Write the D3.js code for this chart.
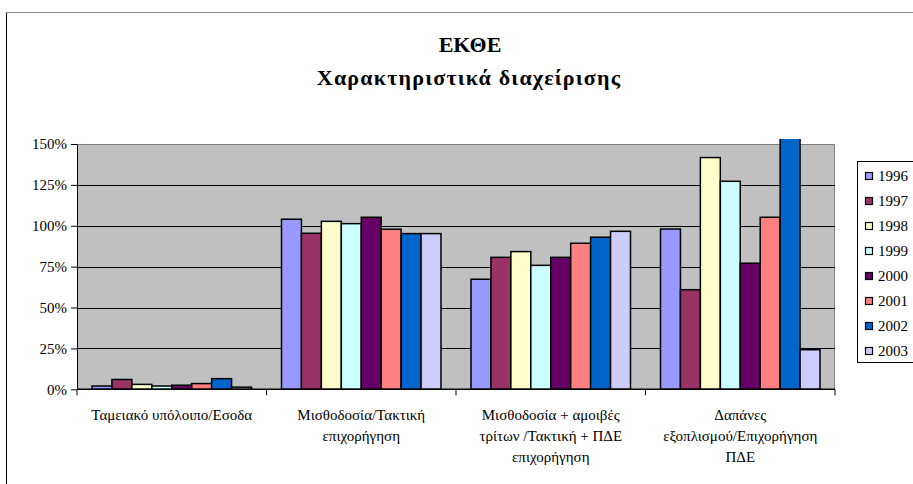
<!DOCTYPE html>
<html>
<head>
<meta charset="utf-8">
<script src="https://cdn.jsdelivr.net/npm/d3@7"></script>
<style>
body { margin: 0; background: #fff; }
</style>
</head>
<body>
<script>
// DATA
var categories = [
    "Ταμειακό υπόλοιπο/Εσοδα",
    "Μισθοδοσία/Τακτική\nεπιχορήγηση",
    "Μισθοδοσία + αμοιβές\nτρίτων /Τακτική + ΠΔΕ\nεπιχορήγηση",
    "Δαπάνες\nεξοπλισμού/Επιχορήγηση\nΠΔΕ"
];
var years = ["1996", "1997", "1998", "1999", "2000", "2001", "2002", "2003"];
var colors = ["#9999FF", "#993366", "#FFFFCC", "#CCFFFF", "#660066", "#FF8080", "#0066CC", "#CCCCFF"];

// one array per year, one value (%) per category
var v1996 = [2.0, 104.0, 67.3, 98.0];
var v1997 = [6.0, 95.4, 80.7, 60.9];
var v1998 = [3.0, 102.7, 84.2, 141.7];
var v1999 = [2.0, 101.3, 75.8, 127.2];
var v2000 = [2.5, 105.2, 80.7, 77.1];
var v2001 = [3.5, 97.9, 89.3, 105.2];
var v2002 = [6.5, 95.2, 93.0, 160.0];
var v2003 = [1.3, 95.2, 96.6, 24.2];
var series = [v1996, v1997, v1998, v1999, v2000, v2001, v2002, v2003];

var yTicks = [0, 25, 50, 75, 100, 125, 150];

const FONT = "'Liberation Serif'";

// D3
var svg = d3.select("body")
    .append("svg")
    .attr("width", 913)
    .attr("height", 484)
    .style("font-family", FONT);

// outer chart border (runs off the picture at right and bottom)
svg.append("rect")
    .attr("x", 6.5).attr("y", 12.5)
    .attr("width", 1000).attr("height", 1000)
    .attr("fill", "none").attr("stroke", "#000");
svg.append("line")
    .attr("x1", 6).attr("x2", 913).attr("y1", 12.5).attr("y2", 12.5)
    .attr("stroke", "#888");

// title
svg.append("text")
    .attr("x", 470).attr("y", 52)
    .attr("text-anchor", "middle")
    .style("font-family", FONT)
    .style("font-size", "22px").style("font-weight", "bold")
    .text("ΕΚΘΕ");
svg.append("text")
    .attr("x", 469).attr("y", 85)
    .attr("text-anchor", "middle")
    .style("font-family", FONT)
    .style("font-size", "22px").style("font-weight", "bold")
    .style("letter-spacing", "1.2px")
    .text("Χαρακτηριστικά διαχείρισης");

const margin = {top: 144, left: 77};
const width = 758;
const height = 245.3;

const x0 = d3.scaleBand()
    .domain(categories)
    .range([0, width])
    .padding(0);

const x1 = d3.scaleBand()
    .domain(years)
    .range([15, x0.bandwidth() - 15])
    .padding(0);

const y = d3.scaleLinear()
    .domain([0, 150])
    .range([height, 0]);

const g = svg.append("g")
    .attr("transform", "translate(" + margin.left + "," + margin.top + ")");

// plot area
g.append("rect")
    .attr("width", width).attr("height", height)
    .attr("fill", "#C0C0C0");
g.append("path")
    .attr("d", "M0,0.5H" + (width - 0.5) + "V" + height)
    .attr("fill", "none").attr("stroke", "#808080");

// gridlines
g.selectAll(".grid").data(yTicks.filter(d => d > 0 && d < 150))
    .enter().append("line")
    .attr("x1", 0).attr("x2", width)
    .attr("y1", d => Math.round(y(d)) + 0.5)
    .attr("y2", d => Math.round(y(d)) + 0.5)
    .attr("stroke", "#000");

// bars (2002 runs past the top of the axis and is cut a little above it)
svg.append("clipPath").attr("id", "clip")
    .append("rect")
    .attr("x", 0).attr("y", -5)
    .attr("width", width).attr("height", height + 5);

const bars = g.append("g").attr("clip-path", "url(#clip)");
years.forEach(function(yr, i) {
    bars.selectAll(".b" + yr)
        .data(series[i])
        .enter().append("rect")
        .attr("x", (d, j) => x0(categories[j]) + x1(yr))
        .attr("y", d => y(d))
        .attr("width", x1.bandwidth())
        .attr("height", d => height - y(d))
        .attr("fill", colors[i])
        .attr("stroke", "#000")
        .attr("stroke-width", 1.5);
});

// y axis
const ya = g.append("g")
    .call(d3.axisLeft(y).tickValues(yTicks).tickFormat(d => d + "%").tickSize(6).tickSizeOuter(0));
ya.attr("font-family", null);
ya.select(".domain").attr("stroke", "#000");
ya.selectAll("text").style("font-family", FONT).style("font-size", "15px").attr("x", -10);

// x axis
const xa = g.append("g")
    .attr("transform", "translate(0," + height + ")");
xa.append("line")
    .attr("x1", 0).attr("x2", width)
    .attr("stroke", "#000").attr("stroke-width", 1.5);
xa.selectAll(".tk").data(categories.concat(["end"]))
    .enter().append("line")
    .attr("x1", (d, i) => i * x0.step()).attr("x2", (d, i) => i * x0.step())
    .attr("y1", 0).attr("y2", 6)
    .attr("stroke", "#000");
xa.selectAll(".lbl").data(categories)
    .enter().append("text")
    .attr("text-anchor", "middle")
    .attr("transform", d => "translate(" + (x0(d) + x0.bandwidth() / 2) + ",30.5)")
    .style("font-family", FONT)
    .style("font-size", "15px")
    .each(function(d) {
        d3.select(this).selectAll("tspan")
            .data(d.split("\n"))
            .enter().append("tspan")
            .attr("x", 0)
            .attr("y", (t, k) => k * 21)
            .text(t => t);
    });

// legend
const leg = svg.append("g").attr("transform", "translate(857,161)");
leg.append("rect")
    .attr("x", 0.5).attr("y", 0.5)
    .attr("width", 100).attr("height", 201)
    .attr("fill", "#fff").attr("stroke", "#000");
years.forEach(function(yr, i) {
    leg.append("rect")
        .attr("x", 8.5).attr("y", 11.5 + i * 25)
        .attr("width", 7).attr("height", 7)
        .attr("fill", colors[i]).attr("stroke", "#000").attr("stroke-width", 1.2);
    leg.append("text")
        .attr("x", 21).attr("y", 20 + i * 25)
        .style("font-family", FONT)
        .style("font-size", "15px")
        .text(yr);
});
</script>
</body>
</html>
